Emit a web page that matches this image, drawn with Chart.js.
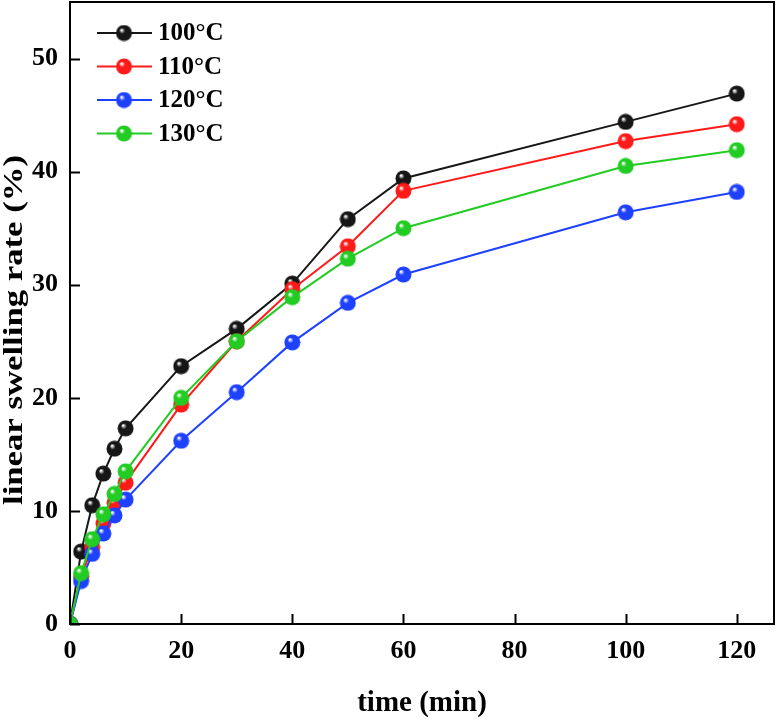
<!DOCTYPE html>
<html>
<head>
<meta charset="utf-8">
<script src="https://cdn.jsdelivr.net/npm/chart.js@4.4.0/dist/chart.umd.min.js"></script>
<style>
  html, body { margin: 0; padding: 0; background: #fff; }
  #wrap { width: 776px; height: 721px; }
</style>
</head>
<body>
<div id="wrap"><canvas id="swell"></canvas></div>
<script>
// time (min)
const times = [0, 2, 4, 6, 8, 10, 20, 30, 40, 50, 60, 100, 120];
const labels = ['100°C', '110°C', '120°C', '130°C'];
const t100 = [0, 6.4, 10.5, 13.3, 15.5, 17.3, 22.8, 26.1, 30.1, 35.8, 39.4, 44.4, 46.9];
const t110 = [0, 4.2, 6.8, 8.9, 10.7, 12.5, 19.4, 25.0, 29.6, 33.4, 38.3, 42.7, 44.2];
const t120 = [0, 3.8, 6.2, 8.0, 9.6, 11.0, 16.2, 20.5, 24.9, 28.4, 30.9, 36.4, 38.2];
const t130 = [0, 4.5, 7.5, 9.7, 11.5, 13.5, 20.0, 25.0, 28.9, 32.3, 35.0, 40.5, 41.9];
const xTicks = [0, 20, 40, 60, 80, 100, 120];
const yTicks = [0, 10, 20, 30, 40, 50];
const yTitle = 'linear swelling rate (%)';

const colors = ['#161616', '#ff1a1a', '#1e40ff', '#22cc22'];

// little shaded ball for the markers
function ball(color) {
    const c = document.createElement('canvas');
    c.width = 17; c.height = 17;
    const g = c.getContext('2d');
    const grd = g.createRadialGradient(6, 5.5, 0.5, 8.5, 8.5, 8.5);
    grd.addColorStop(0, '#ffffff');
    grd.addColorStop(0.3, color);
    grd.addColorStop(1, color);
    g.fillStyle = grd;
    g.beginPath();
    g.arc(8.5, 8.5, 8, 0, Math.PI * 2);
    g.fill();
    return c;
}

const balls = colors.map(ball);

function series(vals) {
    return times.map((t, i) => ({x: t, y: vals[i]}));
}

const allVals = [t100, t110, t120, t130];

const frame = {
    id: 'frame',
    afterDraw(chart) {
        const {ctx, chartArea: a, scales} = chart;
        ctx.save();
        ctx.strokeStyle = '#000';
        ctx.lineWidth = 2;
        ctx.strokeRect(a.left, a.top, a.right - a.left, a.bottom - a.top);
        ctx.beginPath();
        xTicks.forEach(v => {
            const px = Math.round(scales.x.getPixelForValue(v)) + 0.5;
            ctx.moveTo(px, a.bottom);
            ctx.lineTo(px, a.bottom - 10);
        });
        yTicks.forEach(v => {
            const py = Math.round(scales.y.getPixelForValue(v)) + 0.5;
            ctx.moveTo(a.left, py);
            ctx.lineTo(a.left + 10, py);
        });
        ctx.stroke();

        // legend inside the plot
        ctx.font = 'bold 25px "Liberation Serif"';
        ctx.textBaseline = 'middle';
        chart.data.datasets.forEach((ds, i) => {
            const y = 33 + i * 33.5;
            ctx.strokeStyle = ds.borderColor;
            ctx.lineWidth = 2;
            ctx.beginPath();
            ctx.moveTo(97, y);
            ctx.lineTo(152, y);
            ctx.stroke();
            ctx.drawImage(balls[i], 124 - 8.5, y - 8.5);
            ctx.fillStyle = '#000';
            ctx.fillText(ds.label, 158, y + 1);
        });

        // y title, stretched along its length like the original
        const cy = (a.top + a.bottom) / 2 + 17;
        ctx.translate(15, cy);
        ctx.rotate(-Math.PI / 2);
        ctx.scale(1.24, 1);
        ctx.font = 'bold 28px "Liberation Serif"';
        ctx.textAlign = 'center';
        ctx.textBaseline = 'middle';
        ctx.fillText(yTitle, 0, 0);
        ctx.restore();
    }
};

new Chart(document.getElementById('swell'), {
    type: 'line',
    data: {
        datasets: labels.map((lb, i) => ({
            label: lb,
            data: series(allVals[i]),
            borderColor: colors[i],
            borderWidth: 2,
            pointStyle: balls[i],
            pointRadius: 8,
            pointHoverRadius: 8,
            tension: 0,
            clip: 0,
            order: 4 - i
        }))
    },
    options: {
        responsive: true,
        maintainAspectRatio: false,
        animation: false,
        layout: { autoPadding: false, padding: { top: 2, right: 2, left: 0, bottom: 0 } },
        plugins: {
            legend: { display: false },
            tooltip: { enabled: false }
        },
        scales: {
            x: {
                type: 'linear',
                min: 0,
                max: 126.7,
                afterBuildTicks: s => { s.ticks = xTicks.map(v => ({value: v})); },
                afterFit: s => { s.height = 97; s.paddingLeft = 0; s.paddingRight = 0; },
                grid: { display: false },
                border: { display: false },
                ticks: {
                    color: '#000',
                    padding: 4,
                    maxRotation: 0,
                    font: { family: 'Liberation Serif', weight: 'bold', size: 26 }
                },
                title: {
                    display: true,
                    text: 'time (min)',
                    color: '#000',
                    padding: 0,
                    font: { family: 'Liberation Serif', weight: 'bold', size: 29 }
                }
            },
            y: {
                min: 0,
                max: 55,
                afterBuildTicks: s => { s.ticks = yTicks.map(v => ({value: v})); },
                afterFit: s => { s.width = 70; s.paddingTop = 0; s.paddingBottom = 0; },
                grid: { display: false },
                border: { display: false },
                ticks: {
                    color: '#000',
                    padding: 4,
                    font: { family: 'Liberation Serif', weight: 'bold', size: 26 }
                },
                title: { display: false }
            }
        }
    },
    plugins: [frame]
});
</script>
</body>
</html>
